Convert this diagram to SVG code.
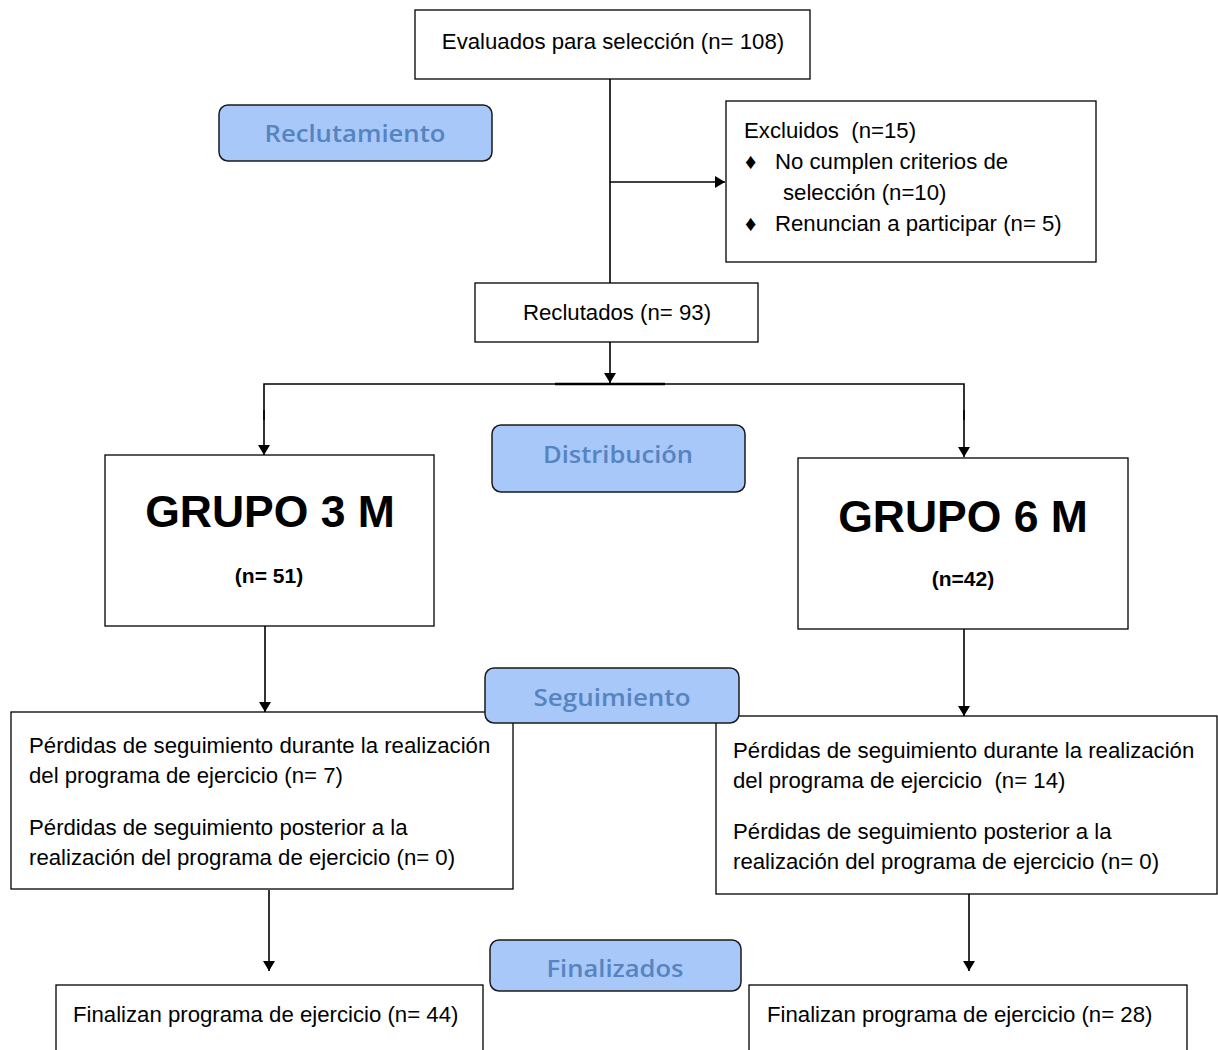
<svg xmlns="http://www.w3.org/2000/svg" width="1218" height="1050" viewBox="0 0 1218 1050">
<style>
.box{fill:#fff;stroke:#000;stroke-width:1.3}
.pill{fill:#a8c8fa;stroke:#1a1a1a;stroke-width:1.5}
.t{font-family:"Liberation Sans",Arial,sans-serif;font-size:22.2px;fill:#000}
.pt{font-family:"Open Sans","Noto Sans",sans-serif;font-weight:600;font-size:23.5px;fill:#5584c0;text-anchor:middle}
.big{font-family:"Liberation Sans",Arial,sans-serif;font-weight:bold;font-size:44.5px;fill:#000;text-anchor:middle}
.n{font-family:"Liberation Sans",Arial,sans-serif;font-weight:bold;font-size:21px;fill:#000;text-anchor:middle}
.ln{fill:none;stroke:#000;stroke-width:1.6}
</style>
<defs>
<marker id="ah" markerWidth="10" markerHeight="12" refX="10" refY="6" orient="auto" markerUnits="userSpaceOnUse">
<path d="M0,0 L10,6 L0,12 Z" fill="#000"/>
</marker>
</defs>
<rect width="1218" height="1050" fill="#fff"/>
<g id="connectors">
<line class="ln" x1="610" y1="79" x2="610" y2="283"/>
<line class="ln" x1="610" y1="182" x2="725" y2="182" marker-end="url(#ah)"/>
<line class="ln" x1="610" y1="342" x2="610" y2="383" marker-end="url(#ah)"/>
<polyline class="ln" points="264,420 264,384 964,384 964,420"/>
<line class="ln" x1="264" y1="410" x2="264" y2="455" marker-end="url(#ah)"/>
<line class="ln" x1="964" y1="410" x2="964" y2="457" marker-end="url(#ah)"/>
<line x1="555" y1="384" x2="665" y2="384" stroke="#000" stroke-width="2.4"/>
<line class="ln" x1="265" y1="626" x2="265" y2="712" marker-end="url(#ah)"/>
<line class="ln" x1="964" y1="629" x2="964" y2="716" marker-end="url(#ah)"/>
<line class="ln" x1="269" y1="890" x2="269" y2="971" marker-end="url(#ah)"/>
<line class="ln" x1="969" y1="894" x2="969" y2="971" marker-end="url(#ah)"/>
</g>
<g id="evaluados">
<rect class="box" x="415" y="10" width="395" height="69"/>
<text class="t" x="613" y="49" text-anchor="middle">Evaluados para selección (n= 108)</text>
</g>
<g id="reclutamiento">
<rect class="pill" x="219" y="105" width="273" height="56" rx="9"/>
<text class="pt" x="355" y="142" textLength="181" lengthAdjust="spacingAndGlyphs">Reclutamiento</text>
</g>
<g id="excluidos">
<rect class="box" x="726" y="101" width="370" height="161"/>
<text class="t" x="744" y="138" xml:space="preserve">Excluidos  (n=15)</text>
<text class="t" x="745" y="169" font-size="15">♦</text>
<text class="t" x="775" y="169">No cumplen criterios de</text>
<text class="t" x="783" y="200">selección (n=10)</text>
<text class="t" x="745" y="231" font-size="15">♦</text>
<text class="t" x="775" y="231">Renuncian a participar (n= 5)</text>
</g>
<g id="reclutados">
<rect class="box" x="475" y="283" width="283" height="59"/>
<text class="t" x="617" y="320" text-anchor="middle">Reclutados (n= 93)</text>
</g>
<g id="distribucion">
<rect class="pill" x="492" y="425" width="253" height="67" rx="9"/>
<text class="pt" x="618" y="463" textLength="150" lengthAdjust="spacingAndGlyphs">Distribución</text>
</g>
<g id="grupo3">
<rect class="box" x="105" y="455" width="329" height="171"/>
<text class="big" x="270" y="527">GRUPO 3 M</text>
<text class="n" x="269" y="583">(n= 51)</text>
</g>
<g id="grupo6">
<rect class="box" x="798" y="458" width="330" height="171"/>
<text class="big" x="963" y="532">GRUPO 6 M</text>
<text class="n" x="963" y="586">(n=42)</text>
</g>
<g id="perdidas3">
<rect class="box" x="11" y="712" width="502" height="177"/>
<text class="t" x="29" y="753">Pérdidas de seguimiento durante la realización</text>
<text class="t" x="29" y="783">del programa de ejercicio (n= 7)</text>
<text class="t" x="29" y="835">Pérdidas de seguimiento posterior a la</text>
<text class="t" x="29" y="865">realización del programa de ejercicio (n= 0)</text>
</g>
<g id="perdidas6">
<rect class="box" x="716" y="716" width="501" height="178"/>
<text class="t" x="733" y="758">Pérdidas de seguimiento durante la realización</text>
<text class="t" x="733" y="788" xml:space="preserve">del programa de ejercicio  (n= 14)</text>
<text class="t" x="733" y="839">Pérdidas de seguimiento posterior a la</text>
<text class="t" x="733" y="869">realización del programa de ejercicio (n= 0)</text>
</g>
<g id="seguimiento">
<rect class="pill" x="485" y="668" width="254" height="55" rx="9"/>
<text class="pt" x="612" y="706" textLength="157" lengthAdjust="spacingAndGlyphs">Seguimiento</text>
</g>
<g id="final3">
<rect class="box" x="56" y="985" width="427" height="80"/>
<text class="t" x="73" y="1022">Finalizan programa de ejercicio (n= 44)</text>
</g>
<g id="final6">
<rect class="box" x="749" y="985" width="438" height="80"/>
<text class="t" x="767" y="1022">Finalizan programa de ejercicio (n= 28)</text>
</g>
<g id="finalizados">
<rect class="pill" x="490" y="940" width="251" height="51" rx="9"/>
<text class="pt" x="615" y="977" textLength="137" lengthAdjust="spacingAndGlyphs">Finalizados</text>
</g>
</svg>
